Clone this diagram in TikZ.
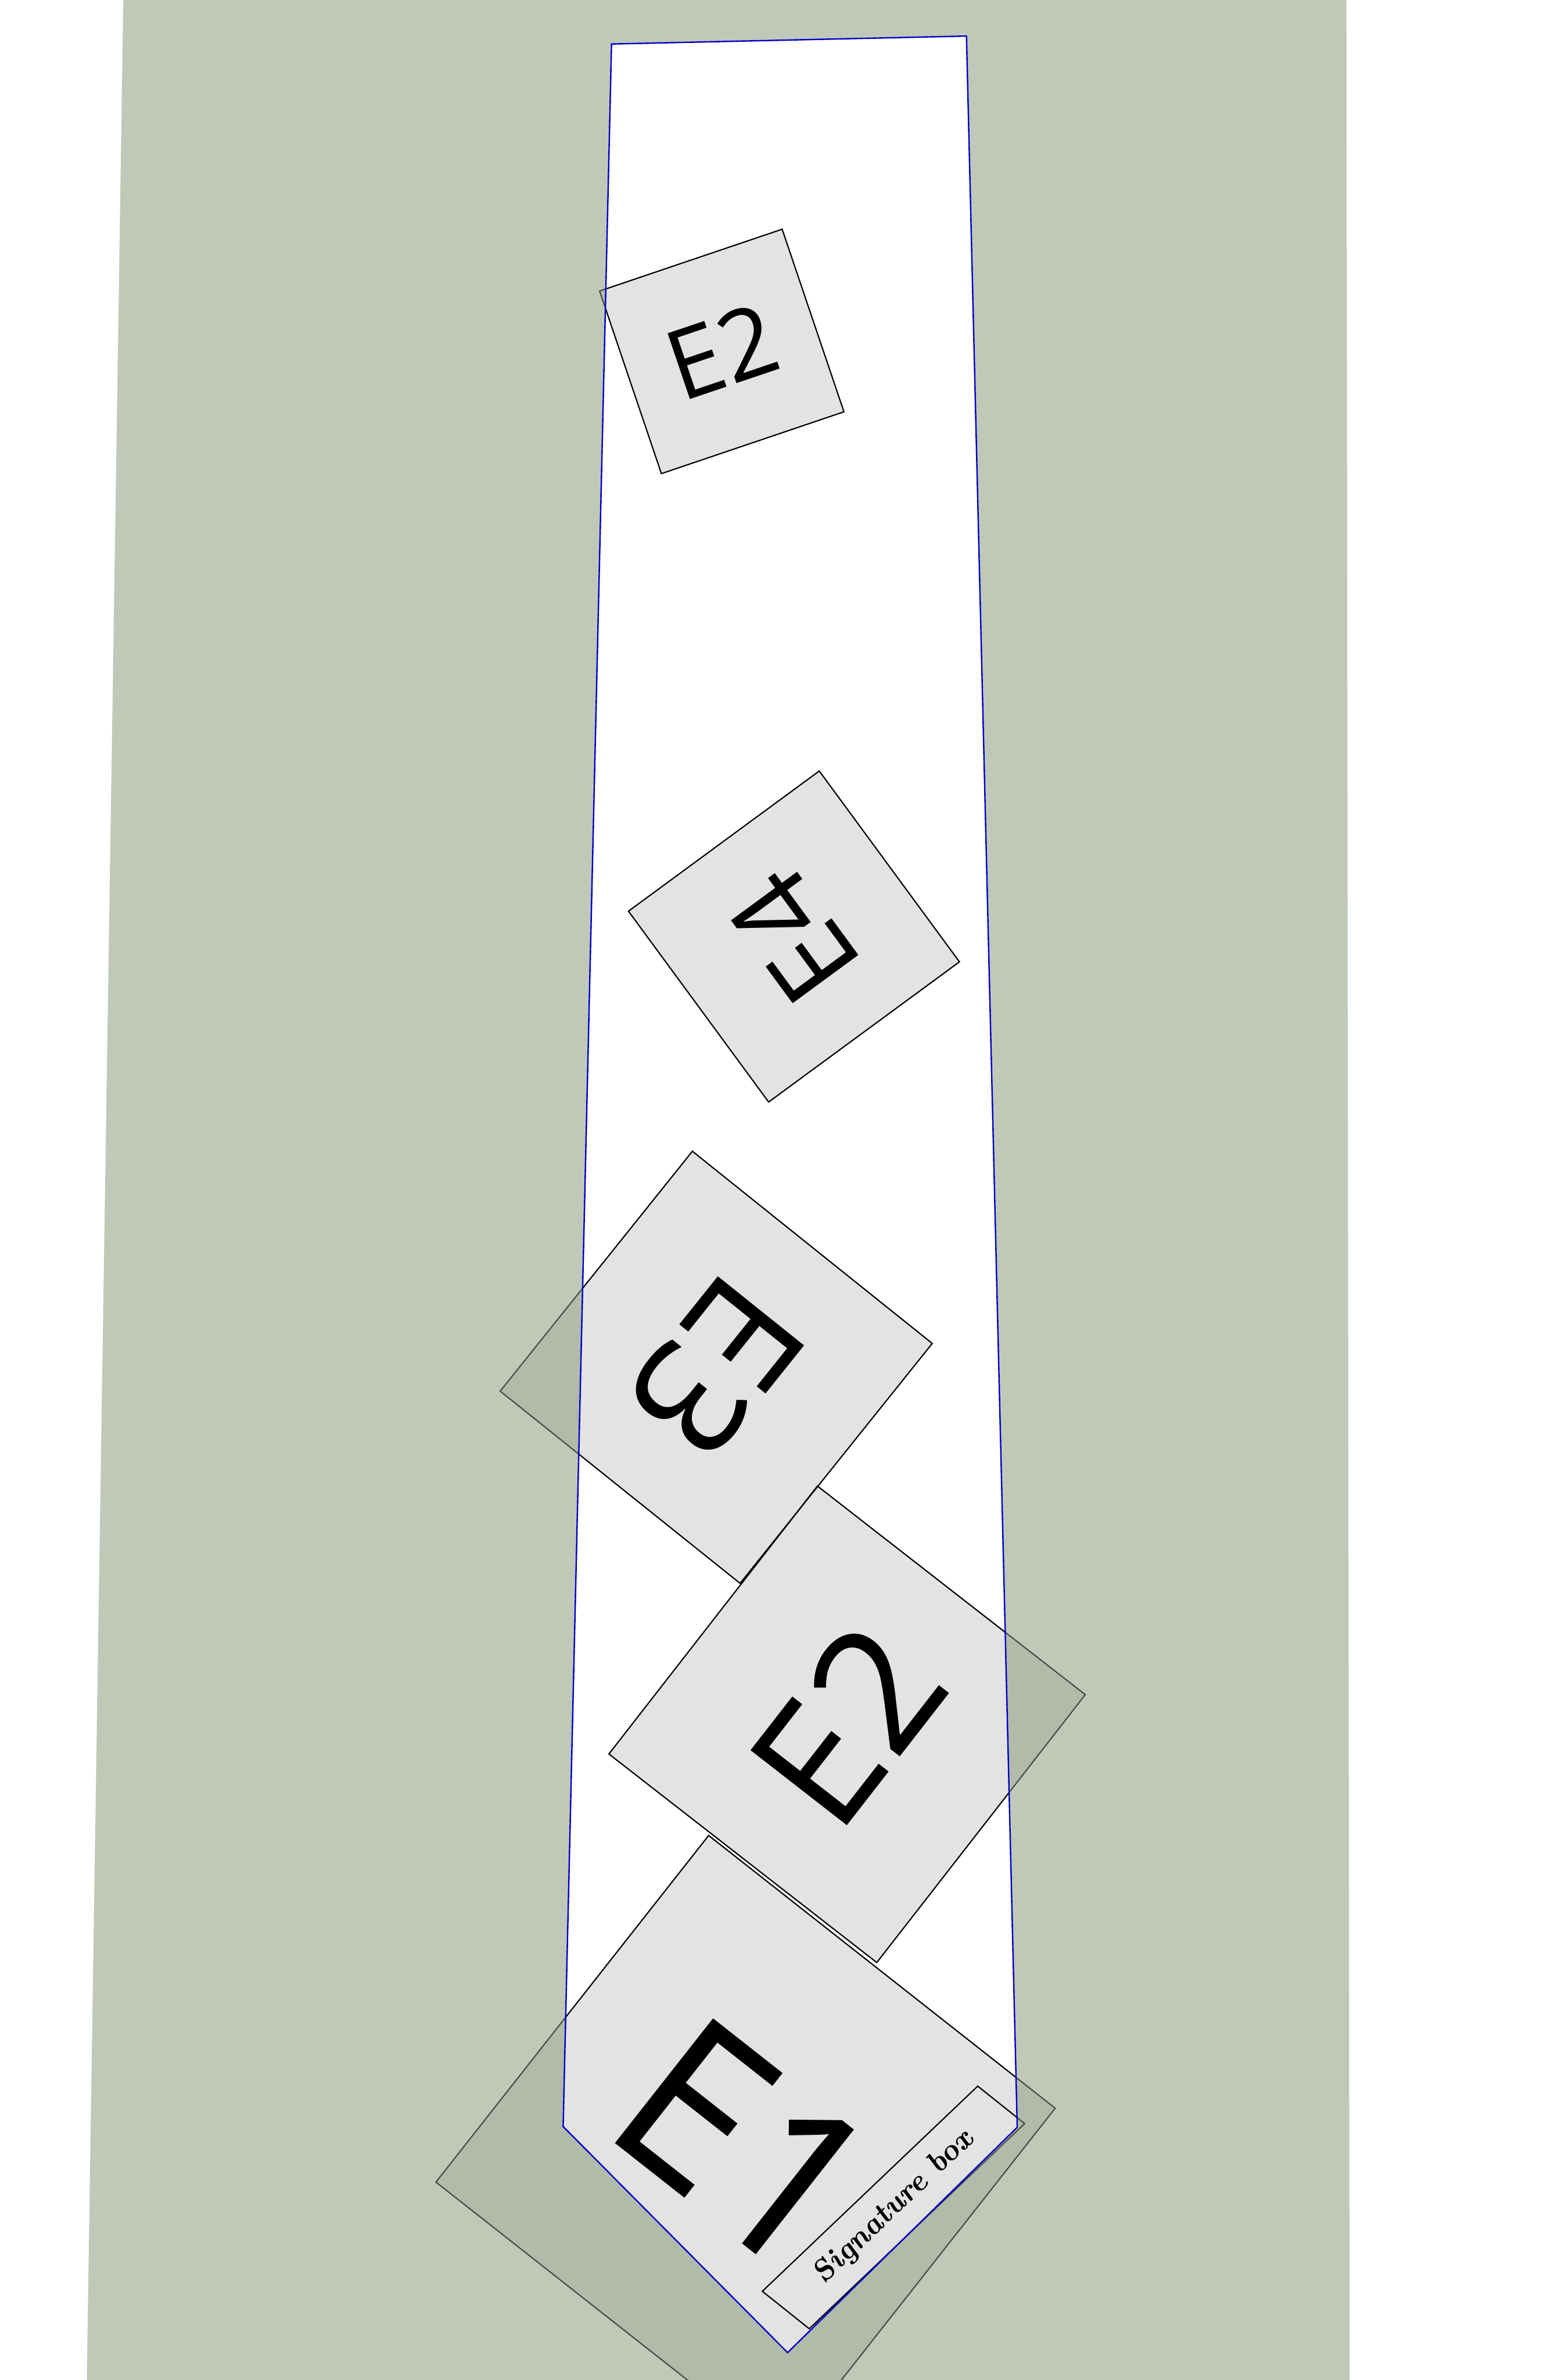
\documentclass[tikz,border=0pt]{standalone}
\usepackage{fontspec}
\newfontfamily\tilefont{Open Sans}
\usetikzlibrary{positioning}
\definecolor{wallgreen}{RGB}{192,200,184}
\definecolor{tieblue}{RGB}{0,0,200}
\tikzset{
  tile/.style={
    rectangle,
    draw=black,
    line width=0.9pt,
    fill=black,
    fill opacity=0.11,
    text opacity=1,
    inner sep=0pt,
    minimum size=#1,
  },
  tiletext/.style={
    font=\tilefont\fontsize{#1}{#1}\selectfont
  },
  sigbox/.style={
    rectangle,
    draw=black,
    line width=0.9pt,
    inner sep=0pt,
    minimum width=7.5cm,
    minimum height=1.5cm,
    font=\bfseries\itshape\fontsize{22}{24}\selectfont,
  },
  tieline/.style={
    draw=tieblue,
    line width=1pt,
  }
}

\begin{document}
\begin{tikzpicture}

\useasboundingbox (0,0) rectangle (39,60);
\clip (0,0) rectangle (39,60);

% --- Wall and tie outline ---
\coordinate (bgtl) at (3.11,60);
\coordinate (bgtr) at (33.95,60);
\coordinate (bgbr) at (34.03,0);
\coordinate (bgbl) at (2.19,0);
\coordinate (tietl) at (15.42,58.89);
\coordinate (tietr) at (24.37,59.09);
\coordinate (tiebr) at (25.65,6.37);
\coordinate (tietip) at (19.86,0.69);
\coordinate (tiebl) at (14.20,6.39);

\fill[wallgreen] (bgtl) -- (bgtr) -- (bgbr) -- (bgbl) -- cycle;
\fill[white] (tietl) -- (tietr) -- (tiebr) -- (tietip) -- (tiebl) -- cycle;

% --- Tiles ---
\node[tile=4.86cm, tiletext=69.7, rotate=18.7] (e2top) at (18.20,51.14) {E2};
\node[tile=5.97cm, tiletext=82, rotate=126.3] (e4) at (20.02,36.39) {E4};
\node[tile=7.75cm, tiletext=111.1, rotate=-128.7] (e3) at (18.06,25.53) {E3};
\node[tile=8.56cm, tiletext=122.7, rotate=52.1] (e2mid) at (21.36,16.53) {E2};
\node[tile=11.12cm, tiletext=159.5, rotate=-38.2] (e1) at (18.80,5.92) {E1};

% --- Signature box ---
\node[sigbox, rotate=43.6, xslant=-0.137] (sig) at (22.53,4.35) {Signature box};

% --- Shade the parts off the tie ---
\fill[wallgreen, fill opacity=0.38, even odd rule]
  (bgtl) -- (bgtr) -- (bgbr) -- (bgbl) -- cycle
  (tietl) -- (tietr) -- (tiebr) -- (tietip) -- (tiebl) -- cycle;

\draw[tieline] (tietl) -- (tietr) -- (tiebr) -- (tietip) -- (tiebl) -- cycle;

\end{tikzpicture}
\end{document}
